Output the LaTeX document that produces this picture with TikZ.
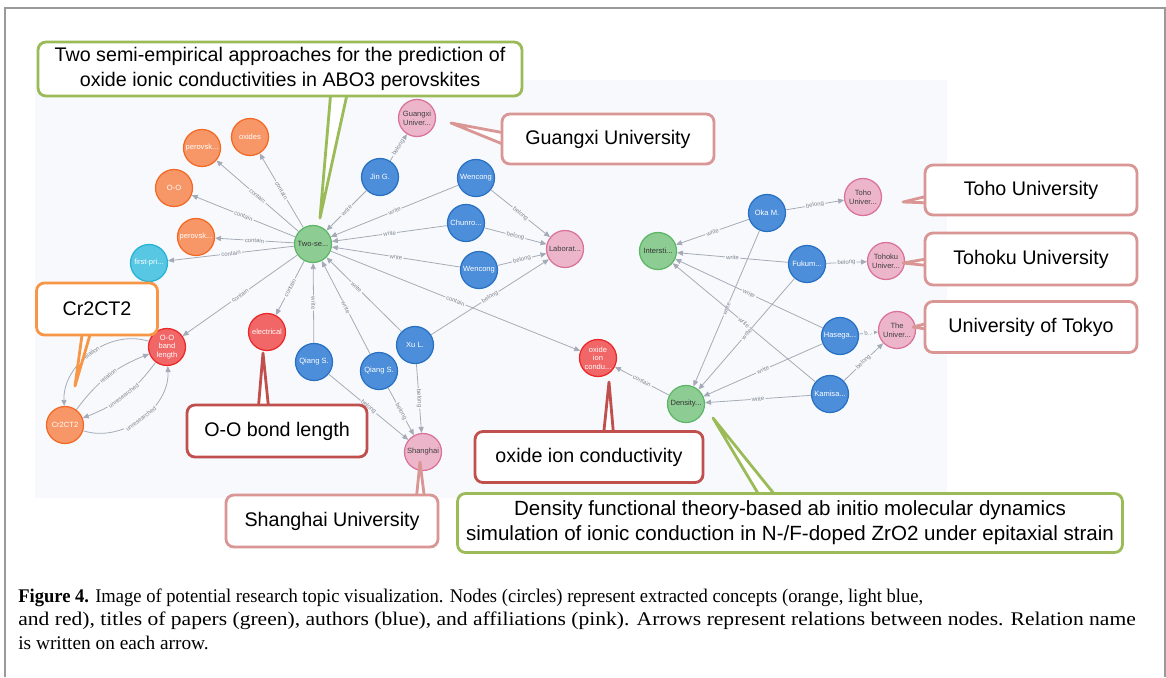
\documentclass[tikz,border=0pt]{standalone}
\usepackage{fontspec}
\setmainfont{Liberation Serif}
\newfontfamily\nodefont{Liberation Sans}
\newfontfamily\callfont{Liberation Sans}
\usetikzlibrary{arrows.meta}
\definecolor{bgc}{HTML}{F7F9FC}
\definecolor{frameC}{HTML}{9A9A9A}
\definecolor{orF}{HTML}{F79767}\definecolor{orD}{HTML}{F36924}
\definecolor{lbF}{HTML}{57C7E3}\definecolor{lbD}{HTML}{23B3D7}
\definecolor{rdF}{HTML}{F16667}\definecolor{rdD}{HTML}{EB2728}
\definecolor{grF}{HTML}{8DCC93}\definecolor{grD}{HTML}{5DB665}
\definecolor{blF}{HTML}{4C8EDA}\definecolor{blD}{HTML}{2870C2}
\definecolor{pkF}{HTML}{ECB5C9}\definecolor{pkD}{HTML}{DA7298}
\definecolor{edgeC}{HTML}{A5ABB6}
\definecolor{labC}{HTML}{7F858F}
\definecolor{cGreen}{HTML}{9BBB59}
\definecolor{cPink}{HTML}{D99694}
\definecolor{cRed}{HTML}{C0504D}
\definecolor{cOrange}{HTML}{F79646}
\tikzset{
  cnode/.style={circle, minimum size=0.74cm, inner sep=0pt, line width=0.7pt, align=center,
    font=\nodefont\fontsize{4.3}{4.9}\selectfont},
  orN/.style={cnode, fill=orF, draw=orD, text=white},
  lbN/.style={cnode, fill=lbF, draw=lbD, text=white},
  rdN/.style={cnode, fill=rdF, draw=rdD, text=white},
  grN/.style={cnode, fill=grF, draw=grD, text=black!80},
  blN/.style={cnode, fill=blF, draw=blD, text=white},
  pkN/.style={cnode, fill=pkF, draw=pkD, text=black!75},
  edge/.style={draw=edgeC, line width=0.45pt, -{Triangle[length=3.4pt,width=2.9pt]}},
  elab/.style={sloped, fill=bgc, inner sep=0.7pt, text=labC, font=\nodefont\fontsize{3.4}{3.6}\selectfont},
  callbox/.style={draw, line width=1.6pt, rounded corners=4.5pt, fill=white, align=center,
    inner sep=0pt, font=\callfont\fontsize{11.2}{14.2}\selectfont, text=black},
  ptr/.style={draw, line width=1.6pt, fill=white, line join=round},
}
\begin{document}
\begin{tikzpicture}[x=0.02cm,y=-0.02cm]
\useasboundingbox (0,0) rectangle (1166,677);
\fill[white] (0,0) rectangle (1166,677);
% outer frame
\draw[frameC, line width=0.9pt] (5,677) -- (5,8) -- (1165,8) -- (1165,677);
% graph background
\fill[bgc] (35,80) rectangle (947,498);

% ---------- nodes ----------
\node[grN] (T) at (313,244) {Two-se...};
\node[orN] (oxides) at (250,137) {oxides};
\node[orN] (perovA) at (202,148) {perovsk...};
\node[orN] (OO) at (174,188) {O-O};
\node[orN] (perovB) at (196,237) {perovsk...};
\node[lbN] (first) at (149,263) {first-pri...};
\node[rdN] (OOb) at (167,347) {O-O\\band\\length};
\node[rdN] (elec) at (267,332) {electrical};
\node[orN] (Cr) at (65,425) {Cr2CT2};
\node[pkN] (guangxi) at (417,118) {Guangxi\\Univer...};
\node[blN] (jin) at (380,177) {Jin G.};
\node[blN] (wenA) at (476,178) {Wencong};
\node[blN] (chun) at (466,223) {Chunro...};
\node[blN] (wenB) at (479,270) {Wencong};
\node[pkN] (lab) at (565,249) {Laborat...};
\node[blN] (qiangA) at (314,362) {Qiang S.};
\node[blN] (qiangB) at (379,371) {Qiang S.};
\node[blN] (xu) at (415,345) {Xu L.};
\node[pkN] (shanghai) at (423,452) {Shanghai};
\node[rdN] (oic) at (598,358) {oxide\\ion\\condu...};
\node[grN] (dens) at (686,404) {Density...};
\node[grN] (inter) at (658,251) {Intersti...};
\node[blN] (oka) at (767,213) {Oka M.};
\node[pkN] (toho) at (863,197) {Toho\\Univer...};
\node[blN] (fuku) at (807,264) {Fukum...};
\node[pkN] (tohoku) at (886,261) {Tohoku\\Univer...};
\node[blN] (hase) at (840,336) {Hasega...};
\node[pkN] (theu) at (897,330) {The\\Univer...};
\node[blN] (kami) at (830,394) {Kamisa...};

% ---------- edges ----------
\foreach \t in {oxides,perovA,OO,perovB,first,OOb,elec,oic}
  \draw[edge] (T) -- node[elab]{contain} (\t);
\foreach \s in {jin,wenA,chun,wenB,qiangA,qiangB}
  \draw[edge] (\s) -- node[elab]{write} (T);
\draw[edge] (xu) -- node[elab, pos=0.6]{write} (T);
\draw[edge] (jin) -- node[elab]{belong} (guangxi);
\foreach \s in {wenA,chun,wenB,xu}
  \draw[edge] (\s) -- node[elab]{belong} (lab);
\foreach \s in {qiangA,qiangB,xu}
  \draw[edge] (\s) -- node[elab]{belong} (shanghai);
\draw[edge] (OOb) to[bend right=55] node[elab]{relation} (Cr);
\draw[edge] (Cr) to[bend left=16] node[elab]{relation} (OOb);
\draw[edge] (OOb) to[bend left=16] node[elab]{unresearched} (Cr);
\draw[edge] (Cr) to[bend right=55] node[elab]{unresearched} (OOb);
\foreach \s in {oka,fuku,hase,kami}{
  \draw[edge] (\s) -- node[elab]{write} (inter);
  \draw[edge] (\s) -- node[elab]{write} (dens);
}
\draw[edge] (oka) -- node[elab]{belong} (toho);
\draw[edge] (fuku) -- node[elab]{belong} (tohoku);
\draw[edge] (hase) -- node[elab]{b...} (theu);
\draw[edge] (kami) -- node[elab]{belong} (theu);
\draw[edge] (dens) -- node[elab]{contain} (oic);

% ---------- callouts ----------
\coordinate (tipTwo) at (320,218);
\draw[ptr, draw=cGreen] (331,90) -- (tipTwo) -- (348,90) -- cycle;
\node[callbox, draw=cGreen, minimum width=9.68cm, minimum height=1.08cm] (cTwo) at (280,69)
  {Two semi-empirical approaches for the prediction of\\oxide ionic conductivities in ABO3 perovskites};

\coordinate (tipGx) at (451,123);
\draw[ptr, draw=cPink] (510,134) -- (tipGx) -- (510,147) -- cycle;
\node[callbox, draw=cPink, minimum width=4.24cm, minimum height=1.0cm] (cGx) at (608,139) {Guangxi University};

\coordinate (tipToho) at (903,202);
\draw[ptr, draw=cPink] (932,195) -- (tipToho) -- (932,203) -- cycle;
\node[callbox, draw=cPink, minimum width=4.24cm, minimum height=1.0cm] (cToho) at (1031,190) {Toho University};

\coordinate (tipTohoku) at (903,263);
\draw[ptr, draw=cPink] (932,258) -- (tipTohoku) -- (932,266) -- cycle;
\node[callbox, draw=cPink, minimum width=4.24cm, minimum height=1.04cm] (cTohoku) at (1031,259) {Tohoku University};

\coordinate (tipTokyo) at (913,327);
\draw[ptr, draw=cPink] (932,322) -- (tipTokyo) -- (932,330) -- cycle;
\node[callbox, draw=cPink, minimum width=4.24cm, minimum height=1.02cm] (cTokyo) at (1031,327) {University of Tokyo};

\coordinate (tipCr) at (75,386);
\draw[ptr, draw=cOrange] (83,328) -- (tipCr) -- (92,328) -- cycle;
\node[callbox, draw=cOrange, minimum width=2.42cm, minimum height=1.04cm] (cCr) at (97,309) {Cr2CT2};

\coordinate (tipOO) at (263,353);
\draw[ptr, draw=cRed] (258,412) -- (tipOO) -- (269,412) -- cycle;
\node[callbox, draw=cRed, minimum width=3.6cm, minimum height=1.04cm] (cOO) at (277,431) {O-O bond length};

\coordinate (tipSh) at (420,462);
\draw[ptr, draw=cPink] (416,502) -- (tipSh) -- (425,502) -- cycle;
\node[callbox, draw=cPink, minimum width=4.24cm, minimum height=1.04cm] (cSh) at (332,521) {Shanghai University};

\coordinate (tipOic) at (609,382);
\draw[ptr, draw=cRed] (603,440) -- (tipOic) -- (614,440) -- cycle;
\node[callbox, draw=cRed, minimum width=4.56cm, minimum height=1.02cm] (cOic) at (589,457) {oxide ion conductivity};

\coordinate (tipDens) at (713,418);
\draw[ptr, draw=cGreen] (762,500) -- (tipDens) -- (779,500) -- cycle;
\node[callbox, draw=cGreen, minimum width=13.3cm, minimum height=1.18cm,
  font=\callfont\fontsize{11.7}{14.2}\selectfont] (cDens) at (790,523)
  {Density functional theory-based ab initio molecular dynamics\\simulation of ionic conduction in N-/F-doped ZrO2 under epitaxial strain};

% ---------- caption ----------
\node[anchor=north west, align=left, inner sep=0pt, font=\fontsize{11}{13.1}\selectfont] (cap) at (18,589)
  {\scalebox{0.96}[1]{\textbf{Figure 4.} Image of potential research topic visualization. Nodes (circles) represent extracted concepts (orange, light blue,}\\
   \scalebox{1.115}[1]{and red), titles of papers (green), authors (blue), and affiliations (pink). Arrows represent relations between nodes. Relation name}\\
   is written on each arrow.};
\end{tikzpicture}
\end{document}
